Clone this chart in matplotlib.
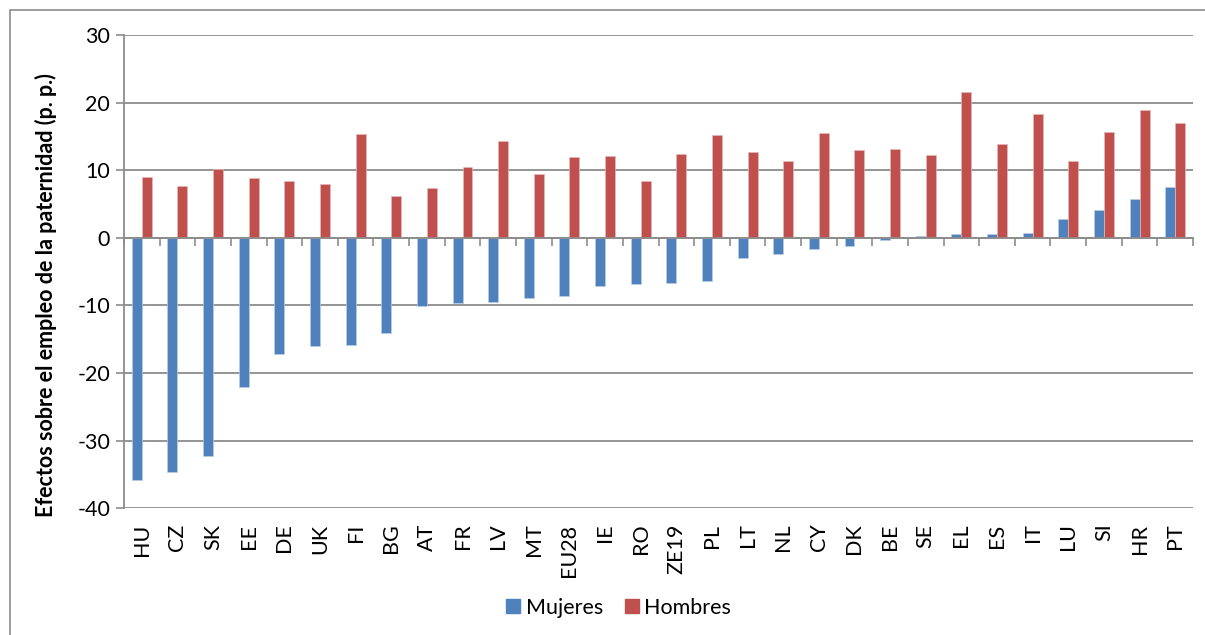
import matplotlib
matplotlib.use("Agg")
import matplotlib.pyplot as plt
from matplotlib.patches import Rectangle
from matplotlib.lines import Line2D
import numpy as np

categories = ["HU", "CZ", "SK", "EE", "DE", "UK", "FI", "BG", "AT", "FR",
              "LV", "MT", "EU28", "IE", "RO", "ZE19", "PL", "LT", "NL", "CY",
              "DK", "BE", "SE", "EL", "ES", "IT", "LU", "SI", "HR", "PT"]
mujeres = [-35.8, -34.7, -32.3, -22.05, -17.2, -16.0, -15.8, -14.05, -10.15, -9.7,
           -9.5, -8.9, -8.6, -7.15, -6.9, -6.65, -6.45, -3.05, -2.45, -1.7,
           -1.2, -0.35, 0.2, 0.5, 0.55, 0.65, 2.85, 4.05, 5.7, 7.5]
hombres = [9.0, 7.65, 10.2, 8.85, 8.45, 8.0, 15.3, 6.2, 7.35, 10.45,
           14.35, 9.5, 11.9, 12.15, 8.4, 12.4, 15.15, 12.65, 11.3, 15.45,
           13.0, 13.1, 12.25, 21.5, 13.95, 18.3, 11.4, 15.65, 18.9, 17.0]
yticks = [30, 20, 10, 0, -10, -20, -30, -40]
series_names = ["Mujeres", "Hombres"]
ylabel = "Efectos sobre el empleo de la paternidad (p. p.)"

BLUE = "#4F81BD"
RED = "#C0504D"
GRID = "#8C8C8C"
FONT = "Lato"

W, H = 1205, 635
plt.rcParams["font.family"] = [FONT, "DejaVu Sans"]
plt.rcParams["axes.unicode_minus"] = False
fig = plt.figure(figsize=(W / 100, H / 100), dpi=100)

# outer chart frame
fig.patches.append(Rectangle((9.5 / W, -0.1), 1.2, (H - 10) / H + 0.1,
                             transform=fig.transFigure, fill=False,
                             edgecolor="#8C8C8C", linewidth=1.2))

left, right, top, bottom = 124, 1193, 35, 508.3
ax = fig.add_axes([left / W, (H - bottom) / H, (right - left) / W, (bottom - top) / H])

x = np.arange(len(categories))
bw = 0.28
ax.bar(x - bw / 2, mujeres, width=bw, color=BLUE, edgecolor="#B9CDE5",
       linewidth=0.5, zorder=3, label=series_names[0])
ax.bar(x + bw / 2, hombres, width=bw, color=RED, edgecolor="#E6B9B8",
       linewidth=0.5, zorder=3, label=series_names[1])

ax.set_ylim(-40, 30)
ax.set_xlim(-0.5, len(categories) - 0.5)
ax.set_yticks(yticks)
ax.tick_params(axis="y", length=6, width=1.2, color=GRID, labelsize=15.5, pad=4)
ax.yaxis.grid(True, color=GRID, linewidth=1.3, zorder=0)
for s in ["top", "right"]:
    ax.spines[s].set_visible(False)
ax.spines["left"].set_color(GRID)
ax.spines["left"].set_linewidth(1.3)
ax.spines["bottom"].set_position(("data", 0))
ax.spines["bottom"].set_color(GRID)
ax.spines["bottom"].set_linewidth(1.3)
ax.spines["bottom"].set_zorder(4)
ax.set_xticks(np.arange(len(categories) + 1) - 0.5)
ax.set_xticklabels([])
ax.tick_params(axis="x", length=6, width=1.2, color=GRID, direction="out")

for i, c in enumerate(categories):
    ax.annotate(c, xy=(i, 0), xycoords=("data", "axes fraction"),
                xytext=(0, -11), textcoords="offset points",
                rotation=90, ha="center", va="top", fontsize=15.5)

fig.text(46 / W, 1 - 295 / H, ylabel, rotation=90, ha="center", va="center",
         fontsize=15.5, fontweight="bold")

handles = [Line2D([], [], marker="s", linestyle="none", markersize=10,
                  markerfacecolor=BLUE, markeredgecolor=BLUE),
           Line2D([], [], marker="s", linestyle="none", markersize=10,
                  markerfacecolor=RED, markeredgecolor=RED)]
fig.legend(handles, series_names, loc="center", bbox_to_anchor=(617 / W, 1 - 607.5 / H),
           ncol=2, frameon=False, fontsize=15.5, handletextpad=0.1,
           columnspacing=0.8, handlelength=1.0)

fig.savefig("out.png", dpi=100)
